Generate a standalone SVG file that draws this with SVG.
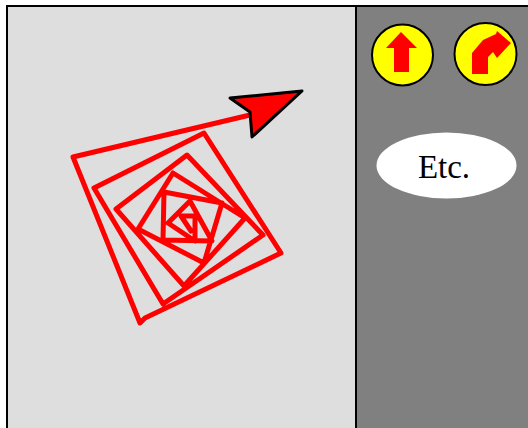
<svg xmlns="http://www.w3.org/2000/svg" width="528" height="428" viewBox="0 0 528 428">
<style>
.btn{fill:#ffff00;stroke:#000;stroke-width:2}
.ico{fill:#ff0000}
.trail{fill:none;stroke:#ff0000;stroke-width:5;stroke-linejoin:round;stroke-linecap:round}
</style>
<rect width="528" height="428" fill="#fff"/>
<g id="stage"><rect x="7" y="6" width="349" height="424" fill="#dedede" stroke="#000" stroke-width="2"/></g>
<g id="sidebar"><rect x="357" y="6" width="172" height="424" fill="#808080"/><path d="M356 6H528" stroke="#000" stroke-width="2"/></g>
<g id="connectors">
<path class="trail" d="M250 115L73 157L140 323L145 318L281 253L204 133L94 188L163 304L263 235L187 155L116 209L184 286L245 218L173 173L138 229L204 263L222 203L164 192L163 240L212 241L190 201L168 223L195 241L195 216L181 216L191 231"/>
</g>
<g id="pointer"><path d="M230 98L302 91L252 137L250 112Z" fill="#ff0000" stroke="#000" stroke-width="3" stroke-linejoin="round"/></g>
<g id="button-up"><circle class="btn" cx="402.500" cy="55" r="30.500"/><path class="ico" d="M401 32L417 48H409V72H394V48H386Z"/></g>
<g id="button-turn"><circle class="btn" cx="485.500" cy="54" r="31"/><path class="ico" d="M497 31L511 43L497 58L493 52L488 57V74H472V53L483 40L496 34Z"/></g>
<g id="etc"><ellipse cx="446.500" cy="165.500" rx="70" ry="33" fill="#fff"/><text x="444" y="178" text-anchor="middle" font-family="'Liberation Serif',serif" font-size="33" fill="#000">Etc.</text></g>
</svg>
